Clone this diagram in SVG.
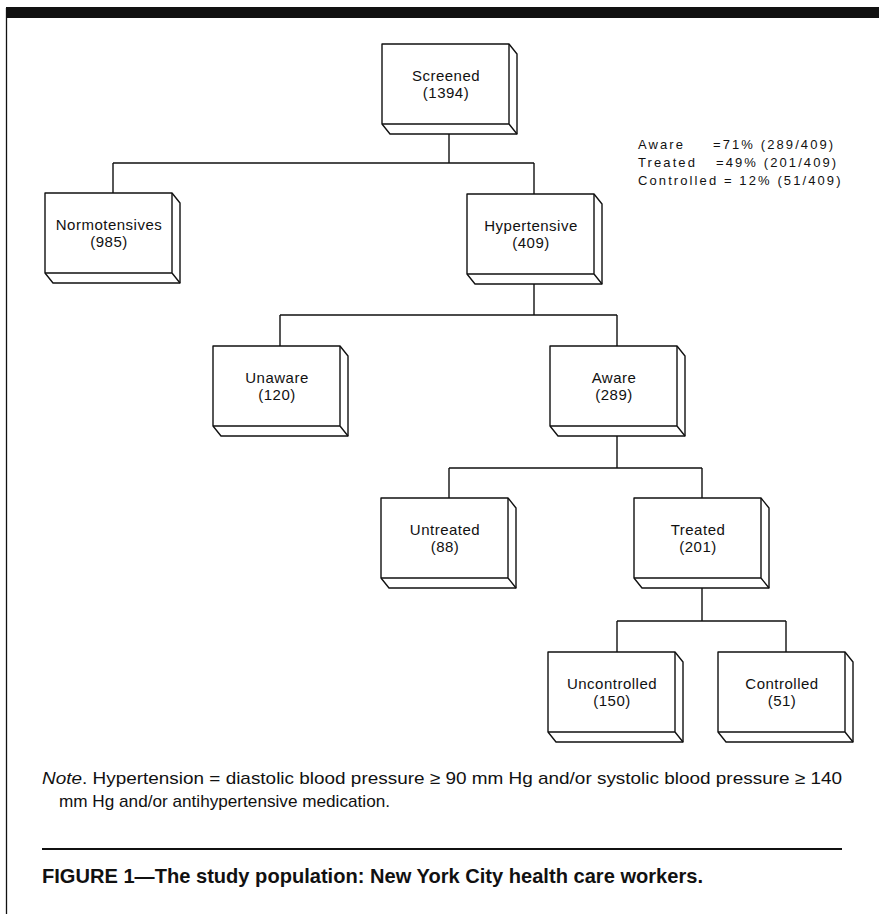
<svg xmlns="http://www.w3.org/2000/svg" width="879" height="914" viewBox="0 0 879 914">
<defs>
<style>
.box{fill:#fff;stroke:#111;stroke-width:1.4;stroke-linejoin:round}
.ln{fill:none;stroke:#111;stroke-width:1.4}
.lbl{font-family:"Liberation Sans",Arial,sans-serif;font-size:15px;letter-spacing:0.5px;fill:#111;text-anchor:middle}
.st{font-family:"Liberation Sans",Arial,sans-serif;font-size:13px;letter-spacing:2.1px;fill:#111}
.note{font-family:"Liberation Sans",Arial,sans-serif;font-size:17px;fill:#111}
.cap{font-family:"Liberation Sans",Arial,sans-serif;font-size:21px;font-weight:bold;fill:#111}
</style>
<g id="cube">
<path class="box" d="M0,0 H127 L135,10 V90 H8 L0,80 Z"/>
<path class="ln" d="M0,80 H127 V0 M127,80 L135,90"/>
</g>
</defs>
<rect x="6" y="7" width="873" height="11" fill="#111"/>
<line x1="6.5" y1="8" x2="6.5" y2="914" stroke="#111" stroke-width="1.3"/>

<g id="connectors" class="ln">
<path d="M449,133 V163 M113,163 H534 M113,163 V193 M534,163 V194"/>
<path d="M534,284 V315 M280,315 H617 M280,315 V346 M617,315 V346"/>
<path d="M617,436 V468 M449,468 H702 M449,468 V498 M702,468 V498"/>
<path d="M702,588 V621 M617,621 H786 M617,621 V652 M786,621 V652"/>
</g>

<g id="screened"><use href="#cube" x="382" y="44"/><text class="lbl" x="446" y="81">Screened</text><text class="lbl" x="446" y="98">(1394)</text></g>
<g id="normotensives"><use href="#cube" x="45" y="193"/><text class="lbl" x="109" y="230">Normotensives</text><text class="lbl" x="109" y="247">(985)</text></g>
<g id="hypertensive"><use href="#cube" x="467" y="194"/><text class="lbl" x="531" y="231">Hypertensive</text><text class="lbl" x="531" y="248">(409)</text></g>
<g id="unaware"><use href="#cube" x="213" y="346"/><text class="lbl" x="277" y="383">Unaware</text><text class="lbl" x="277" y="400">(120)</text></g>
<g id="aware"><use href="#cube" x="550" y="346"/><text class="lbl" x="614" y="383">Aware</text><text class="lbl" x="614" y="400">(289)</text></g>
<g id="untreated"><use href="#cube" x="381" y="498"/><text class="lbl" x="445" y="535">Untreated</text><text class="lbl" x="445" y="552">(88)</text></g>
<g id="treated"><use href="#cube" x="634" y="498"/><text class="lbl" x="698" y="535">Treated</text><text class="lbl" x="698" y="552">(201)</text></g>
<g id="uncontrolled"><use href="#cube" x="548" y="652"/><text class="lbl" x="612" y="689">Uncontrolled</text><text class="lbl" x="612" y="706">(150)</text></g>
<g id="controlled"><use href="#cube" x="718" y="652"/><text class="lbl" x="782" y="689">Controlled</text><text class="lbl" x="782" y="706">(51)</text></g>

<g id="stats">
<text class="st" x="638" y="149">Aware</text><text class="st" x="713" y="149">=71% (289/409)</text>
<text class="st" x="638" y="167">Treated</text><text class="st" x="716" y="167">=49% (201/409)</text>
<text class="st" x="638" y="185">Controlled = 12% (51/409)</text>
</g>

<text class="note" x="42" y="784" textLength="800" lengthAdjust="spacingAndGlyphs"><tspan font-style="italic">Note</tspan>. Hypertension = diastolic blood pressure ≥ 90 mm Hg and/or systolic blood pressure ≥ 140</text>
<text class="note" x="59" y="807" textLength="331" lengthAdjust="spacingAndGlyphs">mm Hg and/or antihypertensive medication.</text>
<line x1="42" y1="849" x2="842" y2="849" stroke="#111" stroke-width="2"/>
<text class="cap" x="42" y="883" textLength="661" lengthAdjust="spacingAndGlyphs">FIGURE 1—The study population: New York City health care workers.</text>
</svg>
